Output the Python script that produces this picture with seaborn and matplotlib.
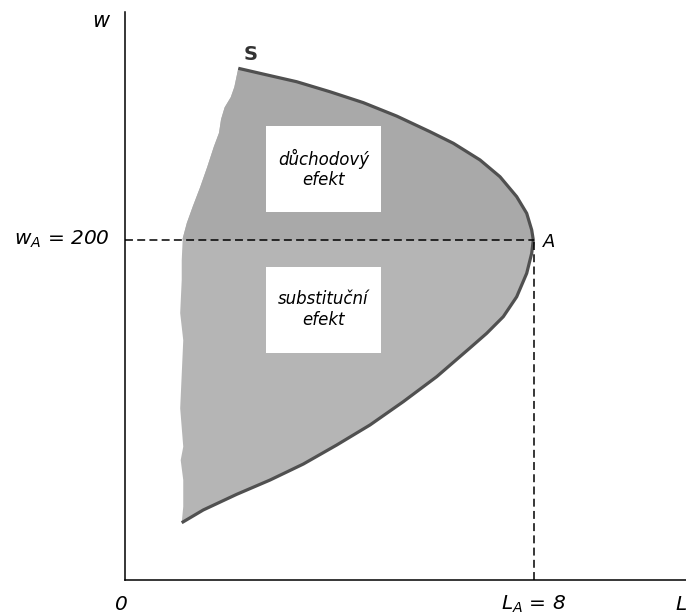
import numpy as np
import pandas as pd
import matplotlib
matplotlib.use('Agg')
import matplotlib.pyplot as plt
import seaborn as sns
from matplotlib.patches import Rectangle

sns.set_style('white')
plt.rcParams['font.family'] = ['DejaVu Sans']
plt.rcParams['font.style'] = 'italic'
plt.rcParams['text.color'] = 'black'
plt.rcParams['mathtext.fontset'] = 'custom'
plt.rcParams['mathtext.it'] = 'DejaVu Sans:italic'
plt.rcParams['mathtext.rm'] = 'DejaVu Sans:italic'

# point A
L_A = 8
w_A = 200

# supply curve (right boundary), from S down to its lower end
curve_L = [2.217, 2.706, 3.360, 4.012, 4.663, 5.317, 5.969, 6.425, 6.947, 7.339,
           7.665, 7.861, 7.959, 7.99,
           7.959, 7.861, 7.665, 7.403, 7.078, 6.751, 6.100, 5.446, 4.795, 4.143,
           3.489, 2.838, 2.186, 1.532, 1.110]
curve_w = [301.0, 297.6, 293.1, 287.2, 280.8, 272.9, 263.7, 256.9, 247.1, 237.2,
           225.5, 215.7, 205.9, 200.0,
           192.2, 180.4, 166.6, 154.9, 145.1, 136.5, 119.6, 104.9, 91.2, 79.4,
           68.2, 58.8, 50.4, 41.2, 33.7]

# wavy left edge of the shaded area, from S downwards
edge_L = [2.217, 2.14, 2.07, 1.95, 1.88, 1.84, 1.74, 1.61, 1.47, 1.33, 1.21, 1.13,
          1.11, 1.11, 1.08, 1.14, 1.11, 1.08, 1.14, 1.09, 1.14, 1.14, 1.110]
edge_w = [301.0, 290, 284, 278, 271, 263, 255, 243, 231, 220, 210, 201,
          188, 176.5, 157, 141, 121, 101, 78.4, 70.5, 58.8, 43.1, 33.7]

xticks = list(range(1, 11))
box_text = ['důchodový\nefekt', 'substituční\nefekt']

fig = plt.figure(figsize=(6.86, 6.16), dpi=100)
ax = fig.add_axes([125 / 686, 36 / 616, 561 / 686, 568 / 616])
ax.set_xlim(0, 561 / 51.1)
ax.set_ylim(0, 568 / 1.7)

# shaded region: lighter below A, darker above
poly_L = curve_L + edge_L[::-1]
poly_w = curve_w + edge_w[::-1]
patch = ax.fill(poly_L, poly_w, color='#b5b5b5', lw=0, zorder=1)[0]
span = ax.axhspan(w_A, 400, color='#a9a9a9', lw=0, zorder=1.5)
span.set_clip_path(patch)

# white label boxes
ax.add_patch(Rectangle((2.76, 216.5), 2.25, 50.5, fc='white', ec='none', zorder=2))
ax.add_patch(Rectangle((2.76, 133.7), 2.25, 50.6, fc='white', ec='none', zorder=2))
ax.text(3.885, 241.8, box_text[0], ha='center', va='center', fontsize=12,
        linespacing=1.2, zorder=3)
ax.text(3.885, 159, box_text[1], ha='center', va='center', fontsize=12,
        linespacing=1.2, zorder=3)

df = pd.DataFrame({'L': curve_L, 'w': curve_w})
sns.lineplot(data=df, x='L', y='w', sort=False, estimator=None,
             color='#505050', lw=2.3, ax=ax, zorder=4,
             solid_joinstyle='round', solid_capstyle='butt')

# dashed guides to A
ax.plot([0, L_A], [w_A, w_A], color='black', lw=1.1, ls='--', dashes=(5.2, 2.8), zorder=5)
ax.plot([L_A, L_A], [0, w_A], color='black', lw=1.1, ls='--', dashes=(5.2, 2.8), zorder=5)

for s in ['top', 'right']:
    ax.spines[s].set_visible(False)
for s in ['left', 'bottom']:
    ax.spines[s].set_linewidth(1.1)
    ax.spines[s].set_color('black')

ax.set_xticks(xticks)
ax.set_xticklabels([])
ax.set_yticks([w_A])
ax.set_yticklabels([])
ax.tick_params(axis='x', direction='inout', length=8, width=1.1, colors='black')
ax.tick_params(axis='y', direction='out', length=4, width=1.1, colors='black')
ax.set_xlabel('')
ax.set_ylabel('')

ax.text(-0.47, 325.5, 'w', ha='center', va='baseline', fontsize=15)
ax.text(2.45, 305.9, 'S', ha='center', va='baseline', fontsize=14,
        fontweight='bold', style='normal', color='#333333')
ax.text(8.18, 196.1, 'A', ha='left', va='baseline', fontsize=13)
ax.text(-0.29, 197.5, '$w_A$ = 200', ha='right', va='baseline', fontsize=14.5)
ax.text(-0.08, -17.6, '0', ha='center', va='baseline', fontsize=14.5)
ax.text(7.36, -17.6, '$L_A$ = 8', ha='left', va='baseline', fontsize=14.5)
ax.text(10.78, -17.6, 'L', ha='left', va='baseline', fontsize=14.5)

fig.savefig('out.png', dpi=100)
